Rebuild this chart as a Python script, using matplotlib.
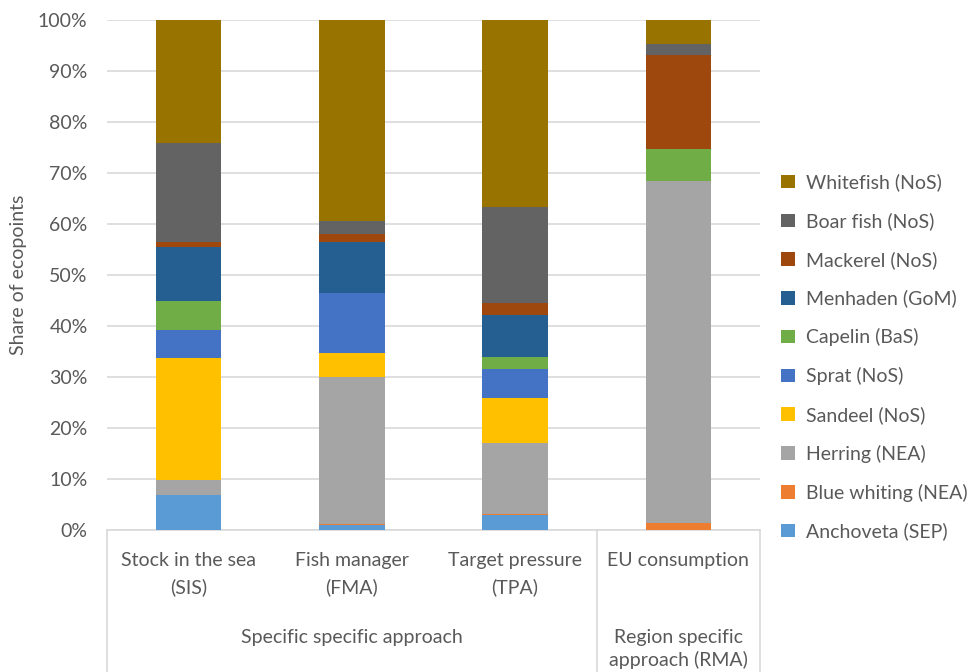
import matplotlib
matplotlib.use("Agg")
import matplotlib.pyplot as plt
from matplotlib.lines import Line2D
from matplotlib.patches import Patch
import numpy as np

plt.rcParams['font.family'] = ['Lato', 'DejaVu Sans']

categories = ["Stock in the sea\n(SIS)", "Fish manager\n(FMA)", "Target pressure\n(TPA)", "EU consumption"]
species = ["Anchoveta (SEP)", "Blue whiting (NEA)", "Herring (NEA)", "Sandeel (NoS)", "Sprat (NoS)",
           "Capelin (BaS)", "Menhaden (GoM)", "Mackerel (NoS)", "Boar fish (NoS)", "Whitefish (NoS)"]
colors = ["#5B9BD5", "#ED7D31", "#A5A5A5", "#FFC000", "#4472C4",
          "#70AD47", "#255E91", "#9E480E", "#636363", "#997300"]

# share of ecopoints (%) per species, one list per category
sis = [6.8, 0.0, 3.0, 24.0, 5.5, 5.6, 10.6, 1.0, 19.3, 24.2]
fma = [0.9, 0.2, 28.9, 4.7, 11.7, 0.0, 10.0, 1.7, 2.5, 39.4]
tpa = [2.85, 0.2, 14.05, 8.7, 5.7, 2.4, 8.3, 2.3, 18.8, 36.7]
rma = [0.0, 1.4, 67.0, 0.0, 0.0, 6.4, 0.0, 18.4, 2.0, 4.8]

groups = ["Specific specific approach", "Region specific\napproach (RMA)"]

data = np.array([sis, fma, tpa, rma]).T  # species x categories
data = data / data.sum(axis=0) * 100

W, H = 979, 672
FS = 14
fig = plt.figure(figsize=(W / 100, H / 100), dpi=100)
ax = fig.add_axes([107 / W, 1 - 530 / H, (760 - 107) / W, (530 - 20) / H])

txt = "#595959"
x = np.arange(len(categories))
bottom = np.zeros(len(categories))
for i, name in enumerate(species):
    ax.bar(x, data[i], 0.4, bottom=bottom, color=colors[i], label=name, zorder=3)
    bottom += data[i]

ax.set_xlim(-0.5, 3.5)
ax.set_ylim(0, 100)
ax.set_yticks(np.arange(0, 101, 10))
ax.set_yticklabels([f"{v}%" for v in range(0, 101, 10)], fontsize=FS, color=txt)
ax.yaxis.grid(True, color="#d9d9d9", linewidth=1.2, zorder=0)
ax.tick_params(axis="y", length=0, pad=14)
ax.set_xticks([])
for s in ["top", "right", "left"]:
    ax.spines[s].set_visible(False)
ax.spines["bottom"].set_color("#d9d9d9")
ax.spines["bottom"].set_linewidth(1.2)
ax.set_ylabel("Share of ecopoints", fontsize=FS, color=txt)
ax.yaxis.set_label_coords(-0.123, 0.5)

# category labels and group separators below the axis
trans = ax.get_xaxis_transform()
for xi, lab in zip(x, categories):
    ax.text(xi, -0.043, lab, transform=trans, ha="center", va="top",
            fontsize=FS, color=txt, linespacing=1.6)
ax.text(1.0, -0.195, groups[0], transform=trans, ha="center", va="top",
        fontsize=FS, color=txt)
ax.text(3.0, -0.195, groups[1], transform=trans, ha="center", va="top",
        fontsize=FS, color=txt, linespacing=1.3)
for xs in [-0.5, 2.5, 3.5]:
    ax.add_line(Line2D([xs, xs], [0, -0.29], transform=trans, color="#d9d9d9",
                       linewidth=1.2, clip_on=False))

handles = [Patch(facecolor=c, label=s) for s, c in zip(species, colors)][::-1]
leg = fig.legend(handles=handles, loc="upper left", bbox_to_anchor=(764 / W, 1 - 156 / H),
                 frameon=False, fontsize=FS, handlelength=0.7, handleheight=0.7,
                 labelspacing=1.07, handletextpad=0.55, labelcolor=txt)

fig.savefig("out.png", dpi=100)
